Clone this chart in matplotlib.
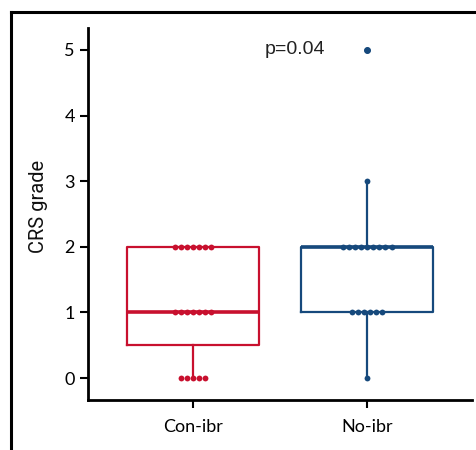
import numpy as np
import matplotlib.pyplot as plt
from matplotlib.lines import Line2D

# CRS grade per patient
groups = ["Con-ibr", "No-ibr"]
con_ibr = [0] * 5 + [1] * 7 + [2] * 7
no_ibr = [0] + [1] * 6 + [2] * 9 + [3] + [5]
colors = ["#C8102E", "#16497C"]
p_text = "p=0.04"

plt.rcParams['font.family'] = ['Lato', 'DejaVu Sans']

fig = plt.figure(figsize=(4.76, 4.5), dpi=100)
ax = fig.add_axes([0.185, 0.111, 0.807, 0.827])

data = [con_ibr, no_ibr]
for i, (vals, col) in enumerate(zip(data, colors)):
    ax.boxplot([vals], positions=[i], widths=0.76, whis=1.5,
               showcaps=False, patch_artist=False,
               boxprops=dict(color=col, linewidth=1.6),
               whiskerprops=dict(color=col, linewidth=1.6),
               medianprops=dict(color=col, linewidth=2.6),
               flierprops=dict(marker='o', markerfacecolor=col,
                               markeredgecolor=col, markersize=4))
    # simple swarm: spread tied values side by side
    vals = np.array(vals)
    step = 0.035
    for v in np.unique(vals):
        n = (vals == v).sum()
        xs = i + (np.arange(n) - (n - 1) / 2) * step
        ax.plot(xs, [v] * n, 'o', color=col, markersize=4.2,
                markeredgewidth=0, zorder=3)

ax.text(0.586, 5, p_text, ha='center', va='center', fontsize=14,
        family=['Liberation Sans', 'DejaVu Sans'], color='#222222')

ax.set_xlim(-0.603, 1.603)
ax.set_ylim(-0.335, 5.335)
ax.set_xticks([0, 1])
ax.set_xticklabels(groups, fontsize=13)
ax.set_yticks(range(6))
ax.tick_params(axis='y', labelsize=13, width=1.5, length=6)
ax.tick_params(axis='x', width=1.5, length=6, pad=8)
ax.set_ylabel("CRS grade", fontsize=14.5,
              family=['Roboto', 'DejaVu Sans'], color='#111111')
ax.yaxis.set_label_coords(-0.104, 0.52)
for s in ['top', 'right']:
    ax.spines[s].set_visible(False)
for s in ['left', 'bottom']:
    ax.spines[s].set_linewidth(2)

# outer frame edge (top and left visible)
fig.add_artist(Line2D([0.023, 1.0], [0.973, 0.973], color='black', lw=2.2,
                      transform=fig.transFigure))
fig.add_artist(Line2D([0.023, 0.023], [0.0, 0.973], color='black', lw=2.2,
                      transform=fig.transFigure))

fig.savefig("out.png", dpi=100)
